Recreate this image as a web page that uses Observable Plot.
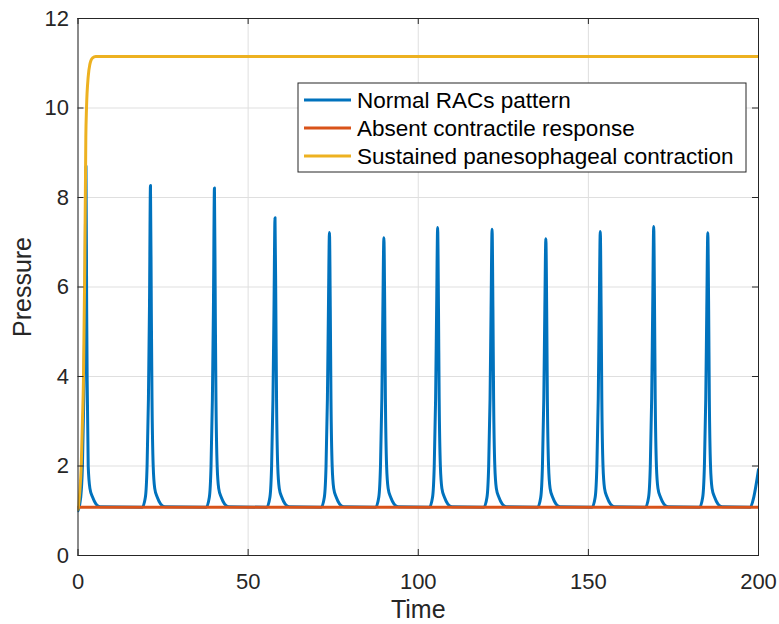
<!DOCTYPE html>
<html>
<head>
<meta charset="utf-8">
<script src="https://cdn.jsdelivr.net/npm/d3@7"></script>
<script src="https://cdn.jsdelivr.net/npm/@observablehq/plot@0.6"></script>
<style>
  body { margin: 0; background: #fff; }
  #chart { width: 779px; height: 624px; }
</style>
</head>
<body>
<div id="chart"></div>
<script>
// ---- data ----
const xTicks = [0, 50, 100, 150, 200];
const yTicks = [0, 2, 4, 6, 8, 10, 12];
const xLabel = "Time";
const yLabel = "Pressure";

const seriesNames = ["Normal RACs pattern", "Absent contractile response", "Sustained panesophageal contraction"];
const seriesColors = ["#0072BD", "#D95319", "#EDB120"];

// Normal RACs pattern (blue)
const normalTime = [
  0, 0.8, 1.3, 1.7, 2.05, 2.35, 2.55, 2.7, 3.0, 3.5, 4.3, 5.3, 6.5,
  18.9, 19.8, 20.3, 20.7, 21.0, 21.3, 21.55, 21.75, 22.1, 22.55, 23.3, 24.3, 25.5,
  37.7, 38.6, 39.1, 39.5, 39.8, 40.1, 40.35, 40.55, 40.9, 41.35, 42.1, 43.1, 44.3,
  55.5, 56.4, 56.9, 57.3, 57.6, 57.9, 58.15, 58.35, 58.7, 59.15, 59.9, 60.9, 62.1,
  71.5, 72.4, 72.9, 73.3, 73.6, 73.9, 74.15, 74.35, 74.7, 75.15, 75.9, 76.9, 78.1,
  87.5, 88.4, 88.9, 89.3, 89.6, 89.9, 90.15, 90.35, 90.7, 91.15, 91.9, 92.9, 94.1,
  103.3, 104.2, 104.7, 105.1, 105.4, 105.7, 105.95, 106.15, 106.5, 106.95, 107.7, 108.7, 109.9,
  119.3, 120.2, 120.7, 121.1, 121.4, 121.7, 121.95, 122.15, 122.5, 122.95, 123.7, 124.7, 125.9,
  135.1, 136.0, 136.5, 136.9, 137.2, 137.5, 137.75, 137.95, 138.3, 138.75, 139.5, 140.5, 141.7,
  151.1, 152.0, 152.5, 152.9, 153.2, 153.5, 153.75, 153.95, 154.3, 154.75, 155.5, 156.5, 157.7,
  166.8, 167.7, 168.2, 168.6, 168.9, 169.2, 169.45, 169.65, 170.0, 170.45, 171.2, 172.2, 173.4,
  182.7, 183.6, 184.1, 184.5, 184.8, 185.1, 185.35, 185.55, 185.9, 186.35, 187.1, 188.1, 189.3,
  197.6, 198.6, 200
];
const normalPressure = [
  1.0, 1.3, 2.0, 3.5, 5.6, 8.7, 5.5, 3.9, 2.0, 1.5, 1.3, 1.15, 1.09,
  1.08, 1.3, 2.0, 3.5, 5.5, 8.27, 5.5, 3.5, 2.0, 1.5, 1.3, 1.15, 1.09,
  1.08, 1.3, 2.0, 3.5, 5.5, 8.21, 5.5, 3.5, 2.0, 1.5, 1.3, 1.15, 1.09,
  1.08, 1.3, 2.0, 3.5, 5.5, 7.55, 5.5, 3.5, 2.0, 1.5, 1.3, 1.15, 1.09,
  1.08, 1.3, 2.0, 3.5, 5.5, 7.22, 5.5, 3.5, 2.0, 1.5, 1.3, 1.15, 1.09,
  1.08, 1.3, 2.0, 3.5, 5.5, 7.10, 5.5, 3.5, 2.0, 1.5, 1.3, 1.15, 1.09,
  1.08, 1.3, 2.0, 3.5, 5.5, 7.33, 5.5, 3.5, 2.0, 1.5, 1.3, 1.15, 1.09,
  1.08, 1.3, 2.0, 3.5, 5.5, 7.29, 5.5, 3.5, 2.0, 1.5, 1.3, 1.15, 1.09,
  1.08, 1.3, 2.0, 3.5, 5.5, 7.08, 5.5, 3.5, 2.0, 1.5, 1.3, 1.15, 1.09,
  1.08, 1.3, 2.0, 3.5, 5.5, 7.24, 5.5, 3.5, 2.0, 1.5, 1.3, 1.15, 1.09,
  1.08, 1.3, 2.0, 3.5, 5.5, 7.35, 5.5, 3.5, 2.0, 1.5, 1.3, 1.15, 1.09,
  1.08, 1.3, 2.0, 3.5, 5.5, 7.21, 5.5, 3.5, 2.0, 1.5, 1.3, 1.15, 1.09,
  1.08, 1.3, 1.92
];

// Absent contractile response (red)
const absentTime = [0, 200];
const absentPressure = [1.08, 1.08];

// Sustained panesophageal contraction (yellow)
const sustainedTime = [0, 0.5, 0.95, 1.3, 1.6, 2.0, 2.3, 2.5, 3.0, 3.5, 3.8, 4.3, 5.2, 200];
const sustainedPressure = [1.03, 1.4, 2.0, 3.0, 3.9, 6.5, 9.35, 10.0, 10.7, 10.98, 11.06, 11.12, 11.15, 11.15];

// ---- layout ----
const W = 779, H = 624;
const mL = 77.5, mR = 21, mT = 18, mB = 69;
const frameW = W - mL - mR, frameH = H - mT - mB;
const tickLen = 6;
const ink = "#262626";
const font = "'Liberation Sans', Arial, Helvetica, sans-serif";

const rows = (ts, ps) => ts.map((t, i) => ({t, p: ps[i]}));
const series = [
  rows(normalTime, normalPressure),
  rows(absentTime, absentPressure),
  rows(sustainedTime, sustainedPressure)
];

const lineMarks = series.map((data, i) =>
  Plot.line(data, {
    x: "t", y: "p", stroke: seriesColors[i], strokeWidth: 3,
    curve: "monotone-x", strokeLinejoin: "round", strokeLinecap: "round", clip: true
  })
);

const svg = Plot.plot({
  width: W, height: H,
  marginLeft: mL, marginRight: mR, marginTop: mT, marginBottom: mB,
  style: {fontFamily: font, background: "#fff", color: ink},
  x: {domain: [0, 200]},
  y: {domain: [0, 12]},
  marks: [
    // grid
    Plot.ruleX(xTicks, {x: d => d, stroke: "#dfdfdf", strokeWidth: 1}),
    Plot.ruleY(yTicks, {y: d => d, stroke: "#dfdfdf", strokeWidth: 1}),
    // data
    ...lineMarks,
    // box
    Plot.frame({stroke: ink, strokeWidth: 1}),
    // inward ticks on all four sides
    Plot.ruleX(xTicks, {x: d => d, stroke: ink, insetTop: frameH - tickLen}),
    Plot.ruleX(xTicks, {x: d => d, stroke: ink, insetBottom: frameH - tickLen}),
    Plot.ruleY(yTicks, {y: d => d, stroke: ink, insetRight: frameW - tickLen}),
    Plot.ruleY(yTicks, {y: d => d, stroke: ink, insetLeft: frameW - tickLen}),
    // tick labels
    Plot.axisX({ticks: xTicks, tickSize: 0, tickPadding: 18, fontSize: 22, fill: ink, label: null, tickFormat: d => String(d)}),
    Plot.axisY({ticks: yTicks, tickSize: 0, tickPadding: 9, fontSize: 22, fill: ink, label: null, tickFormat: d => String(d)}),
    // axis titles
    Plot.text([xLabel], {text: d => d, frameAnchor: "bottom", lineAnchor: "middle", textAnchor: "middle", dy: 54, fontSize: 25, fill: ink}),
    Plot.text([yLabel], {text: d => d, frameAnchor: "left", lineAnchor: "middle", textAnchor: "middle", dx: -55, rotate: -90, fontSize: 25, fill: ink})
  ]
});

// ---- legend (inside the axes, top right) ----
const g = d3.select(svg).append("g").attr("font-family", font).attr("text-anchor", "start");
const lgX = 298, lgY = 83, lgW = 448, lgH = 89, rowH = 28;
g.append("rect").attr("x", lgX).attr("y", lgY).attr("width", lgW).attr("height", lgH)
  .attr("fill", "#fff").attr("stroke", ink).attr("stroke-width", 1);
seriesNames.forEach((name, i) => {
  const cy = lgY + 17 + i * rowH;
  g.append("line").attr("x1", lgX + 6).attr("x2", lgX + 53).attr("y1", cy).attr("y2", cy)
    .attr("stroke", seriesColors[i]).attr("stroke-width", 3);
  g.append("text").attr("x", lgX + 59).attr("y", cy).attr("dy", "0.35em")
    .attr("text-anchor", "start")
    .attr("font-size", 22.5).attr("fill", "#000").text(name);
});

document.getElementById("chart").appendChild(svg);
</script>
</body>
</html>
